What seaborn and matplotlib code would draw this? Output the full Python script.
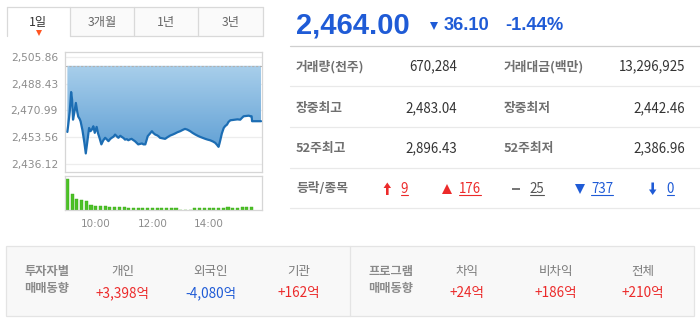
import numpy as np
import pandas as pd
import matplotlib
matplotlib.use("Agg")
import matplotlib.pyplot as plt
import seaborn as sns
from matplotlib.patches import Rectangle, FancyArrow
from matplotlib.colors import LinearSegmentedColormap

# ---------------- data ----------------
tabs = ["1일", "3개월", "1년", "3년"]

price_minutes = [0, 2, 5, 8, 10, 12, 15, 18, 21, 23, 26, 28, 32, 36, 39, 42, 46, 49, 52, 55,
                 58, 62, 65, 68, 72, 76, 80, 84, 87, 91, 94, 98, 101, 105, 108, 112, 115, 119,
                 122, 126, 129, 133, 136, 140, 143, 147, 150, 154, 158, 161, 165, 168, 170, 175,
                 179, 182, 186, 190, 193, 196, 202, 207, 212, 218, 223, 228, 233, 239, 244, 249,
                 254, 260, 265, 271, 276, 281, 286, 292, 297, 302, 308, 313, 317, 320, 322, 324,
                 327, 331, 334, 338, 341, 345, 350, 355, 360, 366, 369, 373, 378, 384, 387, 390,
                 391, 410]
price_values = [2457.0, 2462.0, 2470.0, 2483.0, 2478.0, 2465.0, 2470.0, 2475.9, 2470.0, 2467.0,
                2465.5, 2463.9, 2458.0, 2450.0, 2443.0, 2450.0, 2459.6, 2457.5, 2458.6, 2460.7,
                2456.4, 2460.3, 2456.0, 2453.2, 2448.9, 2451.5, 2453.2, 2452.0, 2451.0, 2452.5,
                2453.2, 2454.0, 2455.3, 2454.0, 2453.2, 2454.5, 2453.8, 2453.0, 2452.0, 2452.3,
                2451.6, 2452.2, 2452.5, 2451.6, 2451.0, 2449.8, 2448.9, 2449.2, 2449.5, 2448.9,
                2448.9, 2452.0, 2454.2, 2456.0, 2457.5, 2456.3, 2455.3, 2454.8, 2454.2, 2453.2,
                2452.8, 2452.5, 2453.6, 2454.7, 2455.3, 2456.0, 2456.8, 2457.5, 2458.3, 2459.0,
                2458.5, 2457.5, 2456.4, 2455.3, 2454.5, 2453.8, 2453.2, 2452.5, 2452.0, 2451.6,
                2450.8, 2449.9, 2448.5, 2447.3, 2449.5, 2452.0, 2456.0, 2459.6, 2460.8, 2461.8,
                2463.5, 2464.6, 2464.8, 2465.0, 2465.2, 2465.0, 2466.0, 2467.2, 2467.4, 2467.6,
                2467.3, 2467.2, 2464.0, 2464.0]
prev_close = 2500.10

volume_minutes = [0, 10, 20, 30, 40, 50, 60, 70, 80, 90, 100, 110, 120, 130, 140, 150, 160, 170,
                  180, 190, 200, 210, 220, 230, 240, 250, 260, 270, 280, 290, 300, 310, 320, 330,
                  340, 350, 360, 370, 380, 390]
volume_values = [132000, 69000, 47000, 44000, 36500, 23300, 19000, 18900, 18800, 11900, 11800,
                 11900, 11700, 7500, 7600, 7400, 7500, 7500, 7400, 7500, 7600, 7400, 7500, 7400,
                 0, 0, 0, 7400, 7500, 7400, 7500, 7400, 7500, 7400, 11500, 7300, 7800, 11000,
                 11200, 11000]

y_ticks = [2436.12, 2453.56, 2470.99, 2488.43, 2505.86]
y_tick_labels = ["2,436.12", "2,453.56", "2,470.99", "2,488.43", "2,505.86"]
x_ticks = [60, 180, 300]
x_tick_labels = ["10:00", "12:00", "14:00"]

price_text = "2,464.00"
change_text = "36.10"
pct_text = "-1.44%"

table_rows = [
    ("거래량(천주)", "670,284", "거래대금(백만)", "13,296,925"),
    ("장중최고", "2,483.04", "장중최저", "2,442.46"),
    ("52주최고", "2,896.43", "52주최저", "2,386.96"),
]
updown_label = "등락/종목"
updown_counts = ["9", "176", "25", "737", "0"]

investor_cols = ["개인", "외국인", "기관"]
investor_vals = ["+3,398억", "-4,080억", "+162억"]
program_cols = ["차익", "비차익", "전체"]
program_vals = ["+24억", "+186억", "+210억"]

# ---------------- style ----------------
sns.set_style("white")
plt.rcParams["font.family"] = ["Noto Sans CJK KR", "DejaVu Sans"]

W, H = 700, 319
fig = plt.figure(figsize=(7.0, 3.19), dpi=100)
fig.patch.set_facecolor("white")

RED = "#ec2a2a"
BLUE = "#1f5bd6"
GRAY_LBL = "#6f6f6f"
VAL = "#333333"


def frac(x0, y0, x1, y1):
    return [x0 / W, 1 - y1 / H, (x1 - x0) / W, (y1 - y0) / H]


# background / overlay axes in pixel coordinates
bg = fig.add_axes([0, 0, 1, 1], zorder=0)
bg.set_xlim(0, W)
bg.set_ylim(H, 0)
bg.axis("off")

# ---------------- tabs ----------------
tab_x = [6.7, 70, 134.3, 198.3, 263]
ty0, ty1 = 6.7, 36
for i in range(4):
    fc = "white" if i == 0 else "#fafafa"
    bg.add_patch(Rectangle((tab_x[i], ty0), tab_x[i + 1] - tab_x[i], ty1 - ty0,
                           facecolor=fc, edgecolor="none"))
bg.plot([tab_x[0], tab_x[-1]], [ty0, ty0], color="#d9d9d9", lw=0.9)
for xv in tab_x:
    bg.plot([xv, xv], [ty0, ty1], color="#d9d9d9", lw=0.9)
bg.plot([tab_x[1], tab_x[-1]], [ty1, ty1], color="#d9d9d9", lw=0.9)
for i, t in enumerate(tabs):
    cx = (tab_x[i] + tab_x[i + 1]) / 2
    bg.text(cx, 22.5, t, ha="center", va="center", fontsize=8.8,
            color="#333333" if i == 0 else "#666666")
bg.plot([39], [33.3], marker="v", color="#ff5522", markersize=4, markeredgewidth=0)

# ---------------- price chart ----------------
ax = fig.add_axes(frac(65, 52, 262, 172), zorder=1)
axv = fig.add_axes(frac(65, 176, 262, 210), zorder=1)

pdf = pd.DataFrame({"minute": price_minutes, "price": price_values})
poly = ax.fill_between(pdf["minute"], pdf["price"], prev_close, facecolor="none",
                       edgecolor="none")
grad = np.linspace(0, 1, 256).reshape(-1, 1)
cmap = LinearSegmentedColormap.from_list("g", ["#a9cfeb", "#5c9dd3"])
im = ax.imshow(grad, extent=[min(price_minutes), max(price_minutes), 2442.0, prev_close],
               origin="upper", aspect="auto", cmap=cmap, zorder=1)
im.set_clip_path(poly.get_paths()[0], transform=ax.transData)

sns.lineplot(data=pdf, x="minute", y="price", ax=ax, color="#1c6db3", linewidth=1.6,
             zorder=3)
ax.axhline(prev_close, color="#b0b0b0", lw=0.8, ls=(0, (2, 1.5)), zorder=2)

ax.set_xlim(-5, 412)
ax.set_ylim(2430.9, 2509.1)
ax.set_yticks(y_ticks)
ax.set_yticklabels(y_tick_labels, family="DejaVu Sans")
ax.set_xticks([])
ax.set_xlabel("")
ax.set_ylabel("")
for yt in y_ticks:
    ax.axhline(yt, color="#ededed", lw=0.9, zorder=0)
ax.tick_params(axis="y", length=4, width=0.8, color="#c8c8c8", labelsize=7.7,
               labelcolor="#8c8c8c", pad=1)
for s in ax.spines.values():
    s.set_color("#d6d6d6")
    s.set_linewidth(0.9)

# ---------------- volume chart ----------------
vdf = pd.DataFrame({"minute": volume_minutes, "volume": volume_values})
sns.barplot(data=vdf, x="minute", y="volume", ax=axv, native_scale=True, width=0.65,
            color="#4cc226", saturation=1, edgecolor="#3aa81a", linewidth=0.3)
axv.set_xlim(-5, 412)
axv.set_ylim(0, 145000)
axv.set_yticks([])
axv.set_xticks(x_ticks)
axv.set_xticklabels(x_tick_labels, family="DejaVu Sans")
axv.set_xlabel("")
axv.set_ylabel("")
axv.tick_params(axis="x", length=3.5, width=0.8, color="#c8c8c8", labelsize=7.5,
                labelcolor="#8c8c8c", pad=3)
for s in axv.spines.values():
    s.set_color("#d6d6d6")
    s.set_linewidth(0.9)

# ---------------- header ----------------
bg.text(296, 33, price_text, ha="left", va="baseline", fontsize=21, fontweight="bold",
        color=BLUE, family=["Liberation Sans", "DejaVu Sans"])
bg.plot([434], [25.5], marker="v", color=BLUE, markersize=5.5, markeredgewidth=0)
bg.text(443.5, 30, change_text, ha="left", va="baseline", fontsize=13.2, fontweight="bold",
        color=BLUE, family=["Liberation Sans", "DejaVu Sans"])
bg.text(505, 30, pct_text, ha="left", va="baseline", fontsize=13.2, fontweight="bold",
        color=BLUE, family=["Liberation Sans", "DejaVu Sans"])
bg.plot([290, 700], [46, 46], color="#cfcfcf", lw=0.9)

# ---------------- table ----------------
row_y = [66.7, 108.3, 148.3]
for (l1, v1, l2, v2), yy in zip(table_rows, row_y):
    bg.text(296, yy, l1, ha="left", va="center", fontsize=9.2, fontweight="bold",
            color=GRAY_LBL)
    bg.text(456.7, yy, v1, ha="right", va="center", fontsize=9.6, color=VAL)
    bg.text(504, yy, l2, ha="left", va="center", fontsize=9.2, fontweight="bold",
            color=GRAY_LBL)
    bg.text(685, yy, v2, ha="right", va="center", fontsize=9.6, color=VAL)
for ly in [86.3, 127.3, 168.3, 208.3]:
    bg.plot([290, 700], [ly, ly], color="#e9e9e9", lw=0.9)

y4 = 189.0
bg.text(296, y4, updown_label, ha="left", va="center", fontsize=9.2, fontweight="bold",
        color=GRAY_LBL)
# up-limit arrow (red) and down-limit arrow (blue)
bg.add_patch(FancyArrow(387.3, 195.0, 0, -12.5, width=2.6, head_width=7.5, head_length=5.5,
                        length_includes_head=True, color=RED, lw=0))
bg.add_patch(FancyArrow(652.7, 182.5, 0, 12.5, width=2.6, head_width=7.5, head_length=5.5,
                        length_includes_head=True, color=BLUE, lw=0))
bg.plot([446.7], [189.0], marker="^", color=RED, markersize=7, markeredgewidth=0)
bg.plot([580.0], [188.5], marker="v", color=BLUE, markersize=7, markeredgewidth=0)
bg.add_patch(Rectangle((511.7, 187.6), 8.0, 2.8, color="#777777", lw=0))

num_x = [400.5, 459.0, 529.5, 591.0, 666.5]
num_col = [RED, RED, "#555555", BLUE, BLUE]
num_texts = []
for s, nx, nc in zip(updown_counts, num_x, num_col):
    t = bg.text(nx, y4, s, ha="left", va="center", fontsize=9.6, color=nc)
    num_texts.append((t, nc))

# ---------------- bottom strip ----------------
bg.add_patch(Rectangle((6, 246), 687.5, 70, facecolor="#f8f8f8", edgecolor="#e4e4e4",
                       lw=0.9))
bg.plot([350, 350], [246, 316], color="#e4e4e4", lw=0.9)
bg.text(47, 272, "투자자별", ha="center", va="center", fontsize=8.8, fontweight="bold",
        color="#8a8a8a")
bg.text(47, 288.5, "매매동향", ha="center", va="center", fontsize=8.8, fontweight="bold",
        color="#8a8a8a")
bg.text(390.7, 272, "프로그램", ha="center", va="center", fontsize=8.8, fontweight="bold",
        color="#8a8a8a")
bg.text(390.7, 288.5, "매매동향", ha="center", va="center", fontsize=8.8, fontweight="bold",
        color="#8a8a8a")
for name, val, cx in zip(investor_cols, investor_vals, [123, 211, 299]):
    bg.text(cx, 271.5, name, ha="center", va="center", fontsize=9, color="#7a7a7a")
    bg.text(cx, 293, val, ha="center", va="center", fontsize=9.8,
            color=BLUE if val.startswith("-") else RED)
for name, val, cx in zip(program_cols, program_vals, [467.3, 555.7, 643.3]):
    bg.text(cx, 271.5, name, ha="center", va="center", fontsize=9, color="#7a7a7a")
    bg.text(cx, 293, val, ha="center", va="center", fontsize=9.8,
            color=BLUE if val.startswith("-") else RED)

# underline the count links
fig.canvas.draw()
renderer = fig.canvas.get_renderer()
inv = bg.transData.inverted()
for t, nc in num_texts:
    bb = t.get_window_extent(renderer)
    (x0, _), (x1, _) = inv.transform([[bb.x0, bb.y0], [bb.x1, bb.y1]])
    bg.plot([x0, x1], [195.3, 195.3], color=nc, lw=0.8)

fig.savefig("out.png", dpi=100, facecolor="white")
